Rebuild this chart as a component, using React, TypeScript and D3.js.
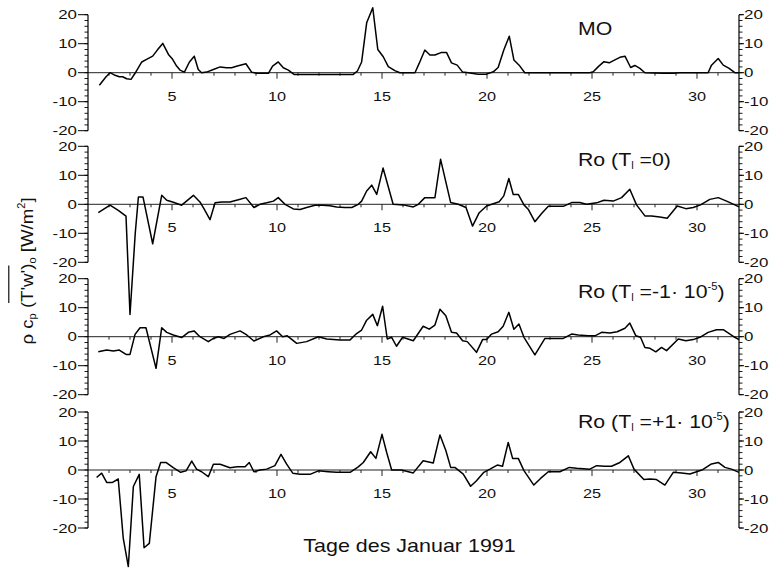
import React, { useLayoutEffect, useRef, useState } from "react";
import * as d3 from "d3";

// ---------- data (day of January 1991, flux W/m^2) ----------
const moSeries: [number, number][] = [
  [1.54, -4.3], [1.86, -1.4], [2.05, 0], [2.29, -0.9], [2.49, -1.4], [2.65, -1.4], [2.84, -2.1],
  [3.05, -2.3], [3.24, -0.2], [3.56, 3.7], [3.79, 4.6], [4.08, 5.7], [4.3, 7.8], [4.56, 10.1],
  [4.83, 6.3], [5.03, 4.6], [5.22, 2.3], [5.38, 0.9], [5.59, 0.2], [5.83, 3.7], [6.06, 5.7],
  [6.25, 1.1], [6.41, 0], [6.65, 0.2], [6.97, 1.1], [7.29, 2.0], [7.6, 1.7], [7.84, 1.7],
  [8.11, 2.3], [8.52, 3.1], [8.79, 0.2], [9.03, -0.2], [9.59, -0.2], [9.79, 2.3], [10.06, 3.7],
  [10.3, 1.7], [10.54, 0.9], [10.81, -0.6], [13.63, -0.6], [13.83, 0.6], [14.03, 3.7],
  [14.27, 17.2], [14.56, 22.4], [14.8, 8], [15.06, 5.5], [15.3, 2.1], [15.61, 0.7], [15.85, 0],
  [16.57, 0], [16.77, 3.2], [17.04, 7.8], [17.28, 6.1], [17.52, 6.1], [17.84, 7.0], [18.07, 7.0],
  [18.31, 3.4], [18.58, 2.6], [18.84, 0.2], [19.11, 0], [19.58, -0.5], [19.98, -0.5], [20.3, 0.3],
  [20.53, 1.8], [20.8, 7.8], [21.06, 12.6], [21.28, 4.4], [21.53, 2.6], [21.8, 0], [24.9, 0],
  [25.06, 0.3], [25.3, 2.1], [25.57, 3.8], [25.82, 3.4], [26.09, 4.4], [26.33, 5.3], [26.57, 5.7],
  [26.84, 1.8], [27.04, 2.5], [27.28, 1.5], [27.52, 0], [28.39, -0.2], [28.87, -0.2], [29.19, 0],
  [30.53, 0], [30.69, 2.6], [31.01, 4.9], [31.25, 2.6], [31.53, 1.5], [31.8, 0], [32.0, 0],
];

const roZeroSeries: [number, number][] = [
  [1.49, -2.9], [2.05, -0.3], [2.44, -2.1], [2.81, -4.1], [3.0, -38], [3.25, -10], [3.4, 2.5],
  [3.62, 2.5], [4.08, -13.6], [4.51, 3.1], [4.75, 1.4], [5.03, 0.8], [5.46, -0.3], [6.02, 3.1],
  [6.33, 0.8], [6.52, -1.5], [6.81, -5.3], [7.05, 0.5], [7.37, 0.8], [7.76, 0.8], [8.16, 1.6],
  [8.52, 2.3], [8.9, -1.1], [9.19, 0], [9.51, 0.5], [9.83, 1.1], [10.06, 2.3], [10.38, 0],
  [10.78, -1.6], [11.1, -1.8], [11.41, -1.1], [11.81, -0.3], [12.17, -0.3], [12.52, -0.5],
  [12.84, -0.9], [13.24, -1.1], [13.56, -1.1], [13.87, 0], [14.03, 1.1], [14.27, 4.6],
  [14.51, 6.6], [14.75, 3.4], [15.05, 12.5], [15.53, 0], [16.01, -0.2], [16.49, -0.9],
  [16.73, 0], [17.04, 2.3], [17.52, 2.3], [17.79, 15.5], [18.27, 0.6], [18.63, 0], [19.0, -1.1],
  [19.31, -7.5], [19.63, -2.9], [19.98, -0.6], [20.3, 0.2], [20.58, 0.9], [20.8, 2.9],
  [21.04, 8.9], [21.25, 3.4], [21.49, 3.4], [21.76, -0.2], [21.96, -1.7], [22.28, -6],
  [22.6, -3.2], [22.92, -0.7], [23.31, -0.7], [23.63, -0.7], [24.03, 0.6], [24.42, 0.6],
  [24.74, 0], [25.22, 0.5], [25.57, 1.4], [26.01, 1.1], [26.41, 2.3], [26.8, 5.2], [27.12, -0.2],
  [27.52, -4], [27.84, -4], [28.23, -4.4], [28.58, -4.8], [29.06, -0.6], [29.47, -1.5],
  [29.82, -1.1], [30.17, -0.2], [30.61, 1.7], [31.01, 2.3], [31.41, 1.1], [31.8, -0.2], [32.0, -0.9],
];

const roMinusSeries: [number, number][] = [
  [1.49, -5.2], [1.89, -4.6], [2.21, -4.9], [2.49, -4.6], [2.81, -6.1], [3.0, -6.1], [3.24, 0.8],
  [3.48, 3.1], [3.76, 3.1], [4.24, -10.9], [4.51, 3.1], [4.75, 1.5], [5.06, 0.6], [5.46, -0.3],
  [5.78, 1.5], [6.05, 2], [6.33, 0], [6.73, -1.7], [6.97, -0.6], [7.21, 0], [7.48, -0.6],
  [7.76, 0.8], [8.24, 2], [8.56, 0.6], [8.9, -1.5], [9.35, 0], [9.67, 0.6], [9.98, 2],
  [10.27, 0], [10.49, 0.3], [10.94, -2.3], [11.41, -1.7], [11.97, 0], [12.37, -0.8], [13.0, -1.1],
  [13.48, -1.1], [13.79, 1.1], [14.03, 2.3], [14.27, 5.7], [14.56, 7.7], [14.78, 3.8],
  [15.03, 10.5], [15.25, -0.8], [15.46, -0.2], [15.69, -3.3], [15.98, -0.2], [16.49, -1.4],
  [16.96, 3.6], [17.25, 2.6], [17.52, 4], [17.76, 9.5], [18.04, 7.2], [18.31, 1.5], [18.55, 1.3],
  [18.84, -1.4], [19.06, -1.7], [19.5, -5.4], [19.79, -1], [19.98, -1], [20.22, 0.9],
  [20.53, 1.7], [20.77, 3.6], [21.04, 8.4], [21.28, 2.6], [21.52, 4.4], [21.76, -0.2],
  [22.28, -6.3], [22.76, -0.6], [23.63, -0.6], [24.03, 0.9], [24.34, 0.6], [24.82, 0.3],
  [25.14, 0.3], [25.46, 1.5], [25.85, 1.3], [26.2, 1.7], [26.57, 2.9], [26.8, 4.7], [27.09, 0.3],
  [27.31, -0.2], [27.52, -3.7], [27.76, -4], [28.04, -5.2], [28.31, -3.7], [28.55, -4.8],
  [29.11, -0.8], [29.47, -1.4], [29.82, -1], [30.14, -0.2], [30.53, 1.5], [30.93, 2.4],
  [31.25, 2.4], [31.57, 0.9], [31.8, -0.2], [32.0, -1],
];

const roPlusSeries: [number, number][] = [
  [1.41, -2.6], [1.65, -1.1], [1.89, -4.3], [2.17, -4.3], [2.44, -3.1], [2.68, -23.6],
  [2.92, -33.3], [3.16, -5.7], [3.44, -1.5], [3.67, -26.8], [3.92, -25.3], [4.24, -2.3],
  [4.46, 2.6], [4.71, 2.6], [5.06, 0.8], [5.41, -0.8], [5.67, -0.3], [5.94, 3.1], [6.17, 0.3],
  [6.41, -0.6], [6.73, -2.3], [6.97, 2], [7.29, 2], [7.76, 0.8], [8.11, 1.1], [8.48, 1.1],
  [8.68, 2.6], [8.9, -0.6], [9.19, 0], [9.51, 0.3], [9.9, 1.5], [10.19, 5.4], [10.46, 2],
  [10.75, -1.1], [11.1, -1.5], [11.57, -1.5], [11.97, -0.3], [12.44, -0.6], [12.84, -0.8],
  [13.48, -0.8], [13.87, 1.1], [14.11, 2.6], [14.46, 6.3], [14.71, 4], [15.0, 12.3],
  [15.22, 6.1], [15.46, 0], [15.93, 0], [16.49, -1], [16.96, 3.2], [17.44, 2.4], [17.76, 12.1],
  [18.04, 6.7], [18.27, 0.9], [18.47, 0.9], [18.87, -1.4], [19.22, -5.6], [19.5, -3.7],
  [19.85, -0.8], [20.14, 0.3], [20.49, 1.7], [20.74, 1.3], [21.01, 9.5], [21.22, 4], [21.49, 4],
  [21.76, -0.2], [22.23, -5.2], [22.55, -2.9], [22.92, -0.6], [23.47, -0.6], [23.92, 0.9],
  [24.27, 0.6], [24.9, 0.3], [25.22, 1.5], [25.61, 1.3], [25.93, 1.3], [26.33, 2.6], [26.73, 4.9],
  [27.0, 0.3], [27.47, -3.3], [27.76, -3.1], [28.07, -3.3], [28.47, -5.2], [28.87, -0.8],
  [29.27, -1], [29.66, -1.4], [29.98, -0.6], [30.27, 0.1], [30.69, 2.1], [31.01, 2.6],
  [31.33, 0.9], [31.64, 0.3], [32.0, -0.8],
];

const seriesList = [moSeries, roZeroSeries, roMinusSeries, roPlusSeries];
const dayTickLabels = [5, 10, 15, 20, 25, 30];
const yTickLabels = [-20, -10, 0, 10, 20];
const xTitle = "Tage des Januar 1991";

// ---------- layout ----------
const W = 773;
const H = 568;
const X0 = 88;
const X1 = 739;
const panelZero = [72.7, 204.3, 336.7, 470];
const HALF = 58;
const FONT = "'Liberation Sans', Arial, Helvetica, sans-serif";

const x = d3.scaleLinear().domain([1, 32]).range([X0, X1]);
const yScale = (i: number) =>
  d3.scaleLinear().domain([-20, 20]).range([panelZero[i] + HALF, panelZero[i] - HALF]);

function PanelLabel({ i }: { i: number }) {
  const ly = [35, 166, 298, 428][i];
  const fs = 19;
  let content: React.ReactNode;
  if (i === 0) content = "MO";
  else {
    const tail = i === 1 ? " =0)" : i === 2 ? " =-1\u00b7 10" : " =+1\u00b7 10";
    content = (
      <>
        Ro (T
        <tspan fontSize={10} dy={3}>l</tspan>
        <tspan dy={-3}>{tail}</tspan>
        {i > 1 && (
          <>
            <tspan fontSize={10} dy={-8}>-5</tspan>
            <tspan dy={8}>)</tspan>
          </>
        )}
      </>
    );
  }
  return (
    <g transform={`translate(578,${ly}) scale(1.12,1)`}>
      <text x={0} y={0} fontSize={fs} fontFamily={FONT} fill="#111">
        {content}
      </text>
    </g>
  );
}

function Panel({ i }: { i: number }) {
  const y = yScale(i);
  const z = y(0);
  const line = d3
    .line<[number, number]>()
    .x((d) => x(d[0]))
    .y((d) => y(d[1]));
  const minorY = d3.range(-20, 21, 2);
  const days = d3.range(2, 32);
  return (
    <g>
      {/* zero line */}
      <line x1={X0} x2={X1} y1={z} y2={z} stroke="#222" strokeWidth={1} />
      {days.map((d) => (
        <line
          key={"dt" + d}
          x1={x(d)}
          x2={x(d)}
          y1={z}
          y2={z + (dayTickLabels.includes(d) ? 6 : 3)}
          stroke="#222"
          strokeWidth={1}
        />
      ))}
      {dayTickLabels.map((d) => (
        <g key={"dl" + d} transform={`translate(${x(d)},${z + 28}) scale(1.25,1)`}>
          <text textAnchor="middle" fontSize={13} fontFamily={FONT} fill="#111">
            {d}
          </text>
        </g>
      ))}
      {/* left axis */}
      <line x1={X0} x2={X0} y1={y(20)} y2={y(-20)} stroke="#000" strokeWidth={1.2} />
      {minorY.map((v) => (
        <line key={"lm" + v} x1={X0 - 3.5} x2={X0} y1={y(v)} y2={y(v)} stroke="#000" strokeWidth={0.9} />
      ))}
      {yTickLabels.map((v) => (
        <g key={"lt" + v}>
          <line x1={X0 - 10} x2={X0} y1={y(v)} y2={y(v)} stroke="#000" strokeWidth={1} />
          <g transform={`translate(${X0 - 11},${y(v) + 4.6}) scale(1.3,1)`}>
            <text textAnchor="end" fontSize={13} fontFamily={FONT} fill="#111">
              {v}
            </text>
          </g>
        </g>
      ))}
      {/* right axis */}
      <line x1={X1} x2={X1} y1={y(20)} y2={y(-20)} stroke="#000" strokeWidth={1.2} />
      {minorY.map((v) => (
        <line key={"rm" + v} x1={X1} x2={X1 + 3.5} y1={y(v)} y2={y(v)} stroke="#000" strokeWidth={0.9} />
      ))}
      {yTickLabels.map((v) => (
        <g key={"rt" + v}>
          <line x1={X1} x2={X1 + 5} y1={y(v)} y2={y(v)} stroke="#000" strokeWidth={1} />
          <g transform={`translate(${X1 + 5},${y(v) + 4.6}) scale(1.3,1)`}>
            <text textAnchor="start" fontSize={13} fontFamily={FONT} fill="#111">
              {v}
            </text>
          </g>
        </g>
      ))}
      {/* data */}
      <path d={line(seriesList[i]) || ""} fill="none" stroke="#000" strokeWidth={1.5} strokeLinejoin="round" />
      <PanelLabel i={i} />
    </g>
  );
}

function YLabel() {
  const ref = useRef<SVGTSpanElement>(null);
  const [ol, setOl] = useState<{ x1: number; x2: number; y: number } | null>(null);
  useLayoutEffect(() => {
    if (ref.current) {
      const b = ref.current.getBBox();
      setOl({ x1: b.x - 1, x2: b.x + b.width + 4, y: b.y - 9 });
    }
  }, []);
  return (
    <g transform="translate(33,271) rotate(-90) scale(1.1,1)">
      <text x={0} y={0} textAnchor="middle" fontSize={17} fontFamily={FONT} fill="#111">
        {"\u03c1 c"}
        <tspan fontSize={10} dy={3}>p</tspan>
        <tspan dy={-3}>{" ("}</tspan>
        <tspan ref={ref}>{"T'w'"}</tspan>
        <tspan>)</tspan>
        <tspan fontSize={10} dy={3}>o</tspan>
        <tspan dy={-3}>{" [W/m"}</tspan>
        <tspan fontSize={10} dy={-8}>2</tspan>
        <tspan dy={8}>]</tspan>
      </text>
      {ol && <line x1={ol.x1} x2={ol.x2} y1={ol.y} y2={ol.y} stroke="#111" strokeWidth={1.2} />}
    </g>
  );
}

export default function App() {
  return (
    <svg
      width={W}
      height={H}
      viewBox={`0 0 ${W} ${H}`}
      style={{ position: "absolute", left: 0, top: 0, background: "#fff" }}
    >
      <rect width={W} height={H} fill="#fff" />
      {seriesList.map((_, i) => (
        <Panel key={i} i={i} />
      ))}
      <YLabel />
      <g transform={`translate(${(X0 + X1) / 2 - 4},552) scale(1.13,1)`}>
        <text textAnchor="middle" fontSize={19} fontFamily={FONT} fill="#111">
          {xTitle}
        </text>
      </g>
    </svg>
  );
}
